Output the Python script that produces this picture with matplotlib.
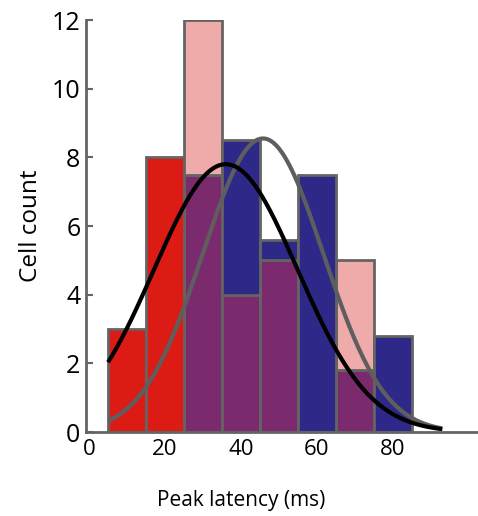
import numpy as np
import matplotlib
matplotlib.use("Agg")
import matplotlib.pyplot as plt

# Data
bin_left = [5, 15, 25, 35, 45, 55, 65, 75]
bin_width = 10
red_counts = [3, 8, 12, 4, 5, 0, 5, 0]
blue_counts = [0, 0, 7.5, 8.5, 5.6, 7.5, 1.8, 2.8]

# Gaussian fit parameters (amplitude, mean, sd)
black_fit = (7.8, 36.0, 18.9)
gray_fit = (8.55, 45.8, 15.9)
fit_range = (5, 93)

xticks = [0, 20, 40, 60, 80]
yticks = [0, 2, 4, 6, 8, 10, 12]

RED = "#DC1C14"
PINK = "#EFAAAA"
PURPLE = "#7B2A6E"
BLUE = "#2E2888"
EDGE = "#646464"

plt.rcParams['font.family'] = ['Open Sans', 'DejaVu Sans']

fig = plt.figure(figsize=(4.78, 5.16), dpi=100)
ax = fig.add_axes([86/478, 84/516, (478-86)/478, (432-20)/516])

x = np.array(bin_left) + bin_width / 2
R = np.array(red_counts, dtype=float)
B = np.array(blue_counts, dtype=float)
overlap = np.minimum(R, B)
kw = dict(width=bin_width, edgecolor=EDGE, linewidth=2, align='center')

# overlap (purple)
m = overlap > 0
ax.bar(x[m], overlap[m], color=PURPLE, **kw)
# red-only bins
m = (R > B) & (B == 0)
ax.bar(x[m], R[m], color=RED, **kw)
# red above blue (pink)
m = (R > B) & (B > 0)
ax.bar(x[m], (R - B)[m], bottom=B[m], color=PINK, **kw)
# blue above red
m = B > R
ax.bar(x[m], (B - R)[m], bottom=R[m], color=BLUE, **kw)

xs = np.linspace(fit_range[0], fit_range[1], 300)
for (a, mu, sd), col, lw in [(gray_fit, "#5E5E5E", 3.0), (black_fit, "black", 3.0)]:
    ax.plot(xs, a * np.exp(-(xs - mu) ** 2 / (2 * sd ** 2)), color=col, lw=lw,
            solid_capstyle='butt')

ax.set_xlim(-0.8, 102.4)
ax.set_ylim(0, 12)
ax.set_xticks(xticks)
ax.set_yticks(yticks)
ax.tick_params(axis='y', direction='in', length=5, width=1.5, color=EDGE,
               labelsize=18, pad=4)
ax.tick_params(axis='x', length=0, labelsize=16, pad=5)
for s in ['top', 'right']:
    ax.spines[s].set_visible(False)
for s in ['left', 'bottom']:
    ax.spines[s].set_color(EDGE)
    ax.spines[s].set_linewidth(2)
ax.set_ylabel("Cell count", fontsize=17.5, labelpad=6)
ax.set_xlabel("Peak latency (ms)", fontsize=15)
ax.xaxis.set_label_coords(155/392, -0.14)

fig.savefig("out.png", dpi=100)
